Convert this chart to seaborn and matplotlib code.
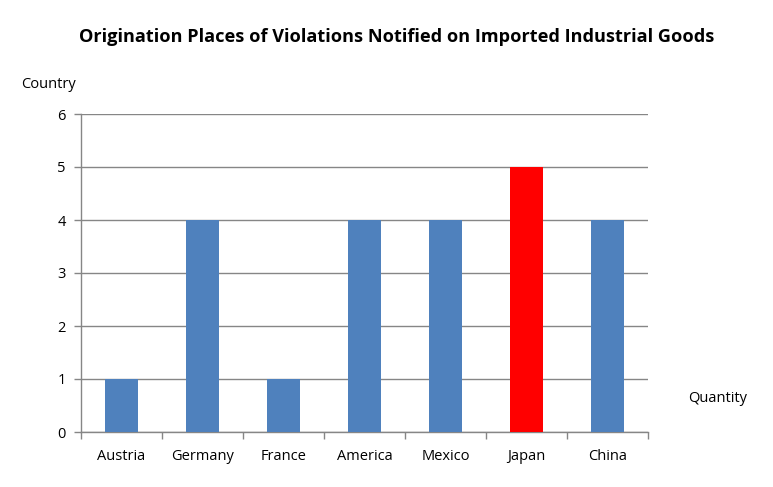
import matplotlib
matplotlib.use("Agg")
import matplotlib.pyplot as plt
import seaborn as sns
import pandas as pd
from matplotlib.ticker import FixedLocator, NullFormatter

countries = ["Austria", "Germany", "France", "America", "Mexico", "Japan", "China"]
quantities = [1, 4, 1, 4, 4, 5, 4]
bar_colors = ["#4F81BD", "#4F81BD", "#4F81BD", "#4F81BD", "#4F81BD", "#FF0000", "#4F81BD"]
y_ticks = [0, 1, 2, 3, 4, 5, 6]

sns.set_style("white")
plt.rcParams["font.family"] = ["Open Sans", "DejaVu Sans"]
plt.rcParams["text.color"] = "black"
plt.rcParams["xtick.color"] = "black"
plt.rcParams["ytick.color"] = "black"

df = pd.DataFrame({"country": countries, "quantity": quantities})

fig = plt.figure(figsize=(7.73, 4.87), dpi=100)
ax = fig.add_axes([81/773, 1-432/487, (648-81)/773, (432-114)/487])

sns.barplot(data=df, x="country", y="quantity", hue="country",
            palette=dict(zip(countries, bar_colors)), legend=False,
            width=0.4, saturation=1, linewidth=0, ax=ax, zorder=3)

grid_c = "#868686"
ax.set_ylim(0, 6)
ax.set_xlim(-0.5, len(countries) - 0.5)
ax.set_yticks(y_ticks)
ax.set_yticklabels([str(v) for v in y_ticks], fontsize=10.5)
ax.yaxis.grid(True, color=grid_c, linewidth=1, zorder=0)
ax.set_axisbelow(True)

ax.set_xticks(range(len(countries)))
ax.set_xticklabels(countries, fontsize=10.5)
ax.tick_params(axis="x", which="major", length=0, pad=12, labelcolor="black")
ax.xaxis.set_minor_locator(FixedLocator([i - 0.5 for i in range(len(countries) + 1)]))
ax.xaxis.set_minor_formatter(NullFormatter())
ax.tick_params(axis="x", which="minor", length=5, color=grid_c, width=1, bottom=True)
ax.tick_params(axis="y", which="major", length=5, color=grid_c, width=1, left=True, pad=6,
               labelcolor="black")

for s in ["top", "right"]:
    ax.spines[s].set_visible(False)
for s in ["left", "bottom"]:
    ax.spines[s].set_color(grid_c)
    ax.spines[s].set_linewidth(1)

ax.set_xlabel("")
ax.set_ylabel("")

fig.text(397/773, 1-37/487, "Origination Places of Violations Notified on Imported Industrial Goods",
         ha="center", va="center", fontsize=13.1, fontweight="bold", color="black")
fig.text(48/773, 1-85/487, "Country", ha="center", va="center", fontsize=10.5, color="black")
fig.text(718/773, 1-398/487, "Quantity", ha="center", va="center", fontsize=10.5, color="black")

fig.savefig("out.png", dpi=100)
